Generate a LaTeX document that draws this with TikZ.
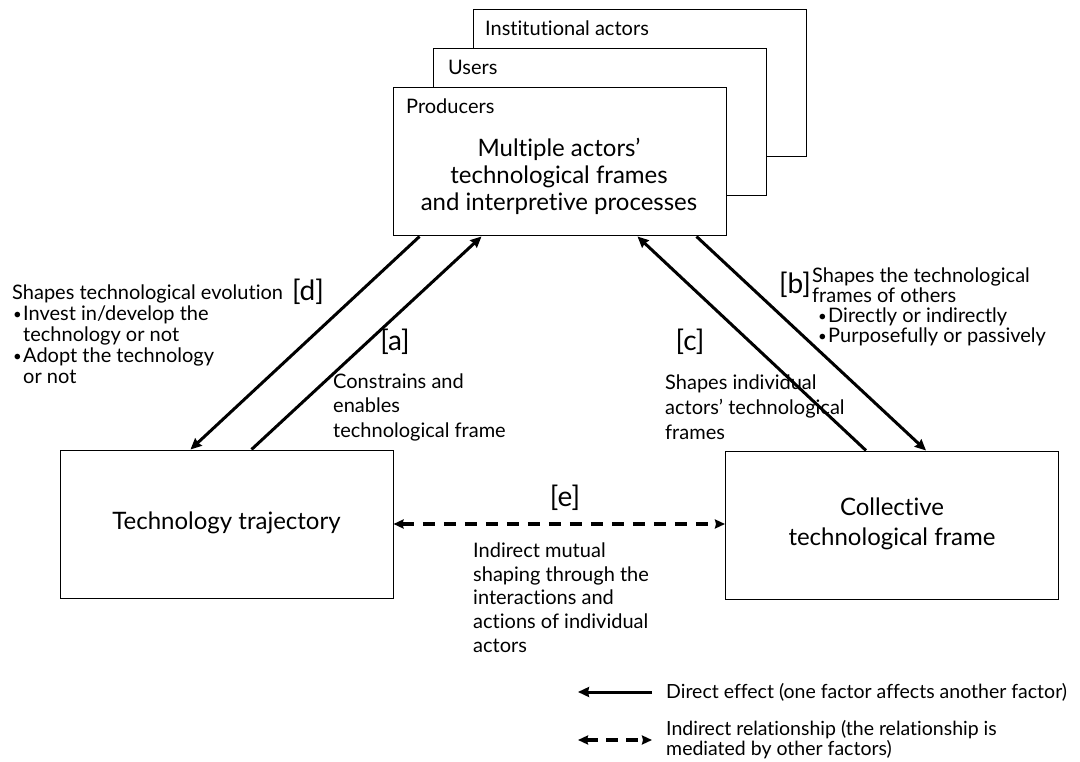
\documentclass[tikz,border=0pt]{standalone}
\usepackage{fontspec}
\setmainfont[RawFeature={-liga}]{Lato}
\usetikzlibrary{arrows.meta}
\newcommand\mybul{\raisebox{0.12ex}{\scalebox{0.75}{\textbullet}}}
\begin{document}
\begin{tikzpicture}[x=1pt,y=-1pt,
  box/.style={draw, line width=1pt, fill=white, minimum width=333pt, minimum height=147pt, inner sep=0pt},
  bigtxt/.style={font=\fontsize{24}{27}\selectfont, align=center},
  lbl/.style={inner sep=0pt, align=left, font=\fontsize{20}{#1}\selectfont},
  tag/.style={inner sep=0pt, font=\fontsize{28}{30}\selectfont},
  dir/.style={line width=3pt, -{Stealth[length=11pt,width=10pt,inset=1pt]}},
  ind/.style={line width=3.5pt, dash pattern=on 12pt off 9pt, {Stealth[length=10pt,width=9pt,inset=1pt]}-{Stealth[length=10pt,width=9pt,inset=1pt]}},
  legt/.style={inner sep=0pt, align=left, anchor=west, font=\fontsize{19.5}{20}\selectfont}
]
\useasboundingbox (0,0) rectangle (1080,762);

% stacked actor boxes
\node[box] (inst) at (639.5,83.5) {};
\node[lbl=20, anchor=west] (instl) at (485,28) {Institutional actors};
\node[box] (users) at (599.5,122.5) {};
\node[lbl=20, anchor=west] (usersl) at (448,67) {Users};
\node[box, minimum height=148pt] (prod) at (559.5,162) {};
\node[lbl=20, anchor=west] (prodl) at (406,106) {Producers};
\node[bigtxt] (prodt) at (559,176) {Multiple actors'\\technological frames\\and interpretive processes};

% bottom boxes
\node[box, minimum height=148pt] (traj) at (226.5,524) {};
\node[bigtxt] (trajt) at (226.5,523) {Technology trajectory};
\node[box, minimum height=148pt] (coll) at (892,525) {};
\node[bigtxt, font=\fontsize{24}{30}\selectfont] (collt) at (892,524) {Collective\\technological frame};

% direct arrows
\draw[dir] ([xshift=27pt]prod.south west) -- ([xshift=131pt]traj.north west);
\draw[dir] ([xshift=192pt]traj.north west) -- ([xshift=89pt]prod.south west);
\draw[dir] ([xshift=141pt]coll.north west) -- ([xshift=245pt]prod.south west);
\draw[dir] ([xshift=304pt]prod.south west) -- ([xshift=201pt]coll.north west);

% indirect arrow
\draw[ind] (traj.east) -- (traj.east -| coll.west);

% labels
\node[tag] (td) at (308,292) {[d]};
\node[lbl=21, anchor=west] (dtxt) at (12,334) {Shapes technological evolution\\
\hspace*{1pt}\makebox[10pt][l]{\mybul}Invest in/develop the\\
\hspace*{11pt}technology or not\\
\hspace*{1pt}\makebox[10pt][l]{\mybul}Adopt the technology\\
\hspace*{11pt}or not};
\node[tag] (ta) at (395,342) {[a]};
\node[lbl=24.5, anchor=west] (atxt) at (333,407) {Constrains and\\enables\\technological frame};
\node[tag] (tb) at (795,285) {[b]};
\node[lbl=20, anchor=west] (btxt) at (812,307) {Shapes the technological\\
frames of others\\
\hspace*{6pt}\makebox[10pt][l]{\mybul}Directly or indirectly\\
\hspace*{6pt}\makebox[10pt][l]{\mybul}Purposefully or passively};
\node[tag] (tc) at (690,342) {[c]};
\node[lbl=25, anchor=west] (ctxt) at (665,407) {Shapes individual\\actors' technological\\frames};
\node[tag] (te) at (565,498) {[e]};
\node[lbl=23.7, anchor=west] (etxt) at (473,597.5) {Indirect mutual\\shaping through the\\interactions and\\actions of individual\\actors};

% legend
\coordinate (l1a) at (578,692);
\coordinate (l1b) at (652,692);
\draw[dir] (l1b) -- (l1a);
\node[legt] (l1t) at (666,692) {Direct effect (one factor affects another factor)};
\coordinate (l2a) at (578,740);
\coordinate (l2b) at (652,740);
\draw[ind, dash pattern=on 12pt off 8pt] (l2a) -- (l2b);
\node[legt] (l2t) at (666,740) {Indirect relationship (the relationship is\\mediated by other factors)};
\end{tikzpicture}
\end{document}
